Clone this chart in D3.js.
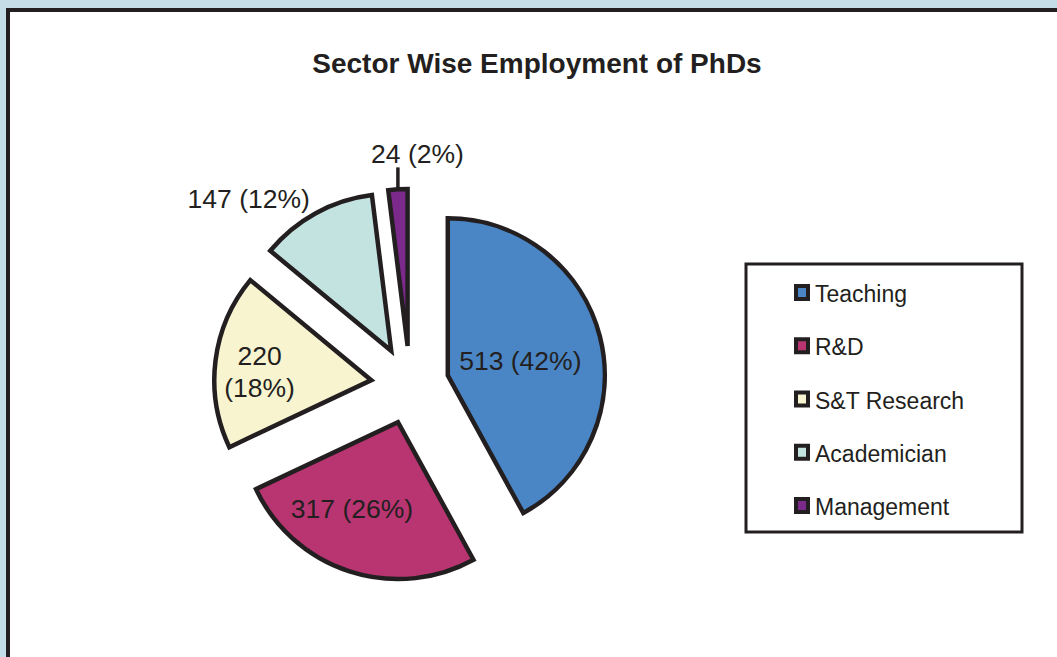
<!DOCTYPE html>
<html>
<head>
<meta charset="utf-8">
<script src="https://cdn.jsdelivr.net/npm/d3@7"></script>
<style>
  body { margin: 0; background: #c5dde7; }
  text { font-family: "Liberation Sans", Arial, sans-serif; fill: #231f20; }
</style>
</head>
<body>
<div id="chart"></div>
<script>
var categories = ["Teaching", "R&D", "S&T Research", "Academician", "Management"];
var values     = [513, 317, 220, 147, 24];
var percents   = ["42%", "26%", "18%", "12%", "2%"];
var colors     = ["#4a86c5", "#b83571", "#f8f4d0", "#c2e3e0", "#7b2a8c"];

var width  = 1057,
    height = 657;

// pie placement
var cx = 410, cy = 385, radius = 157, explode = 39;
var ink = "#231f20";

// label placement per slice: radius from slice tip, angle nudge in degrees
var labelR     = [74, 98, 112, 208, 192];
var labelNudge = [3, 10, -3, -14.5, 6.5];

var svg = d3.select("#chart").append("svg")
      .attr("width", width)
      .attr("height", height);

// frame
svg.append("rect")
      .attr("x", 6).attr("y", 8)
      .attr("width", width).attr("height", height)
      .style("fill", ink);
svg.append("rect")
      .attr("x", 10).attr("y", 12)
      .attr("width", width).attr("height", height)
      .style("fill", "#fff");

svg.append("text")
      .attr("x", 537).attr("y", 73)
      .attr("text-anchor", "middle")
      .style("font-size", "28px")
      .style("font-weight", "bold")
      .text("Sector Wise Employment of PhDs");

var data = categories.map(function (c, i) { return {name: c, value: values[i], pct: percents[i], i: i}; });

var pie = d3.pie().sort(null).value(function (d) { return d.value; });
var arc = d3.arc().innerRadius(0).outerRadius(radius);
var arcs = pie(data);

function polar(a, r) { return [Math.sin(a) * r, -Math.cos(a) * r]; }

var g = svg.append("g").attr("transform", "translate(" + cx + "," + cy + ")");

var slices = g.selectAll("g.slice")
      .data(arcs)
      .enter()
      .append("g")
      .attr("class", "slice")
      .attr("transform", function (d) {
        var p = polar((d.startAngle + d.endAngle) / 2, explode);
        return "translate(" + p[0] + "," + p[1] + ")";
      });

slices.append("path")
      .attr("d", arc)
      .style("fill", function (d) { return colors[d.data.i]; })
      .style("stroke", ink)
      .style("stroke-width", 4.5)
      .style("stroke-linejoin", "miter");

// leader line for the thin slice (straight up from its outer edge)
slices.filter(function (d) { return d.data.name === "Management"; })
      .append("line")
      .attr("x1", function (d) { return polar((d.startAngle + d.endAngle) / 2, radius)[0]; })
      .attr("y1", function (d) { return polar((d.startAngle + d.endAngle) / 2, radius)[1]; })
      .attr("x2", function (d) { return polar((d.startAngle + d.endAngle) / 2, radius)[0]; })
      .attr("y2", function (d) { return polar((d.startAngle + d.endAngle) / 2, radius)[1] - 22; })
      .style("stroke", ink)
      .style("stroke-width", 3.5);

var labels = slices.append("text")
      .attr("text-anchor", "middle")
      .style("font-size", "26.5px")
      .attr("transform", function (d) {
        var a = (d.startAngle + d.endAngle) / 2 + labelNudge[d.data.i] * Math.PI / 180;
        var p = polar(a, labelR[d.data.i]);
        return "translate(" + p[0] + "," + p[1] + ")";
      });

labels.each(function (d) {
  var t = d3.select(this);
  if (d.data.name === "S&T Research") {
    t.append("tspan").attr("x", 0).attr("y", -7).text(d.data.value);
    t.append("tspan").attr("x", 0).attr("y", 25).text("(" + d.data.pct + ")");
  } else {
    t.append("tspan").attr("x", 0).attr("y", 9).text(d.data.value + " (" + d.data.pct + ")");
  }
});

// legend
var legend = svg.append("g");
legend.append("rect")
      .attr("x", 746).attr("y", 264)
      .attr("width", 276).attr("height", 268)
      .style("fill", "#fff")
      .style("stroke", ink)
      .style("stroke-width", 3);

var ly = d3.scalePoint().domain(categories).range([294, 507]);

var items = legend.selectAll("g.item")
      .data(data)
      .enter()
      .append("g")
      .attr("class", "item")
      .attr("transform", function (d) { return "translate(0," + ly(d.name) + ")"; });

items.append("rect")
      .attr("x", 794).attr("y", -10)
      .attr("width", 16).attr("height", 17)
      .style("fill", ink);
items.append("rect")
      .attr("x", 798).attr("y", -6)
      .attr("width", 8).attr("height", 9)
      .style("fill", function (d) { return colors[d.i]; });

items.append("text")
      .attr("x", 815).attr("y", 8)
      .style("font-size", "23px")
      .text(function (d) { return d.name; });
</script>
</body>
</html>
